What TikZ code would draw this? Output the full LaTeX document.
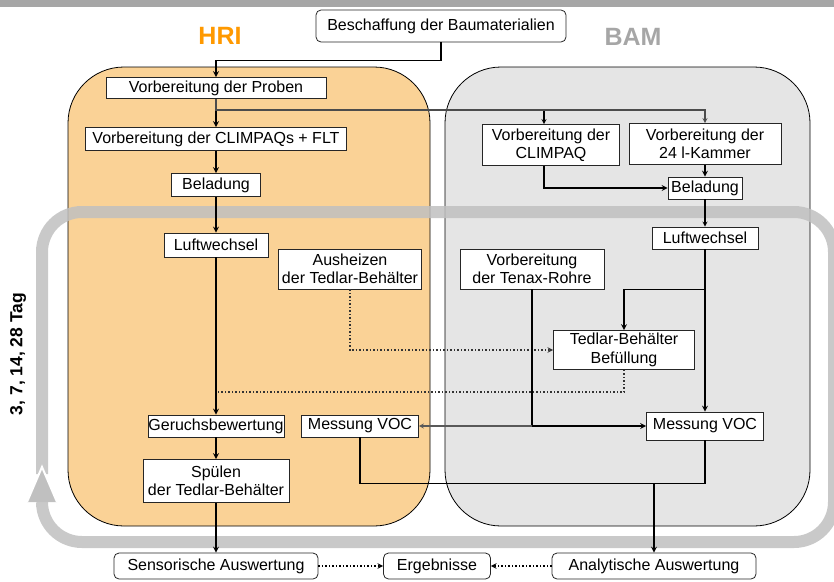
\documentclass[tikz,border=0pt]{standalone}
\usepackage{fontspec}
\setmainfont{Liberation Sans}
\usetikzlibrary{shapes.geometric, arrows}

\definecolor{hriorange}{RGB}{255,153,0}
\definecolor{hrifill}{RGB}{250,210,150}
\definecolor{bamgray}{RGB}{166,166,166}
\definecolor{bamfill}{RGB}{229,229,229}
\definecolor{loopgray}{RGB}{192,192,192}

\tikzstyle{task} = [rectangle, draw=black!85, line width=0.8pt, fill=white, inner xsep=0.5pt, inner ysep=1pt, align=center, minimum height=22pt]
\tikzstyle{result} = [task, rounded corners=5pt, minimum height=26pt]
\tikzstyle{arrow} = [line width=1.6pt,->,>=stealth]
\tikzstyle{thinarrow} = [line width=1.2pt,->,>=stealth]
\tikzstyle{link} = [line width=1.6pt]
\tikzstyle{dotarrow} = [line width=1.5pt,dotted,->,>=stealth]
\tikzstyle{dotline} = [line width=1.5pt,dotted]
\tikzstyle{panel} = [draw=black, line width=0.8pt, rounded corners=56pt]
\tikzstyle{loopband} = [loopgray, line width=12pt, rounded corners=40pt, opacity=0.85]

\begin{document}
\begin{tikzpicture}[x=1pt, y=-1pt, node distance=50pt, font=\fontsize{16}{18.5}\selectfont]
	\useasboundingbox (0,0) rectangle (834,581);
	\fill [bamgray] (0,0) rectangle (834,7);
	\filldraw [panel, fill=hrifill] (68,67) rectangle (430,526);
	\filldraw [panel, fill=bamfill] (445,67) rectangle (810,526);
	\draw [loopband] (42,474) -- (42,212) -- (834,212) -- (834,542) -- (42,542) -- (42,502);
	\fill [loopgray] (27,502) -- (42,467) -- (57,502) -- cycle;
	\draw [white, line width=2pt] (27,502) -- (42,467) -- (57,502);
	
	\node (days) [rotate=90, font=\fontsize{17.5}{20}\selectfont\bfseries] at (18,354) {3, 7, 14, 28 Tag};
	
	\node (n0) [result, minimum width=250pt, minimum height=32pt] at (441,26) {Beschaffung der Baumaterialien};
	\node (hri) [left of=n0, xshift=-171pt, yshift=-10pt, text=hriorange, font=\fontsize{25}{30}\selectfont\bfseries] {HRI};
	\node (bam) [right of=n0, xshift=142pt, yshift=-11pt, text=bamgray, font=\fontsize{25}{30}\selectfont\bfseries] {BAM};
	\node (n1) [task, below of=n0, xshift=-225pt, yshift=-12pt, minimum width=220pt, minimum height=21pt] {Vorbereitung der Proben};
	\node (n2) [task, below of=n1, yshift=-1pt, minimum width=261pt, minimum height=23pt] {Vorbereitung der CLIMPAQs + FLT};
	\node (n3) [task, below of=n2, yshift=4pt, minimum width=89pt, minimum height=23pt] {Beladung};
	\node (n4) [task, below of=n3, yshift=-10pt, minimum width=104pt, minimum height=24pt] {Luftwechsel};
	\node (n5) [task, right of=n4, xshift=84pt, yshift=-24pt, minimum width=143pt, minimum height=40pt] {Ausheizen\\der Tedlar-Behälter};
	\node (n6) [task, below of=n4, yshift=-131pt, minimum width=136pt] {Geruchsbewertung};
	\node (n7) [task, right of=n6, xshift=94pt, minimum width=117pt] {Messung VOC};
	\node (n8) [task, below of=n6, yshift=-5pt, minimum width=146pt, minimum height=43pt] {Spülen\\der Tedlar-Behälter};
	\node (n9) [result, below of=n8, yshift=-35pt, minimum width=204pt] {Sensorische Auswertung};
	\node (n10) [result, right of=n9, xshift=171pt, minimum width=107pt] {Ergebnisse};
	\node (n11) [result, right of=n10, xshift=167pt, minimum width=204pt] {Analytische Auswertung};
	\node (n13) [task, below of=n0, xshift=264pt, yshift=-68pt, minimum width=152pt, minimum height=41pt] {Vorbereitung der\\24 l-Kammer};
	\node (n12) [task, left of=n13, xshift=-104pt, yshift=-1pt, minimum width=137pt, minimum height=41pt] {Vorbereitung der\\CLIMPAQ};
	\node (n14) [task, below of=n13, yshift=6pt, minimum width=74pt] {Beladung};
	\node (n15) [task, below of=n14, minimum width=106pt] {Luftwechsel};
	\node (n16) [task, left of=n15, xshift=-123pt, yshift=-31pt, minimum width=144pt, minimum height=40pt] {Vorbereitung\\der Tenax-Rohre};
	\node (n17) [task, below of=n16, xshift=92pt, yshift=-31pt, minimum width=141pt, minimum height=39pt] {Tedlar-Behälter\\Befüllung};
	\node (n18) [task, below of=n15, yshift=-138pt, minimum width=117pt, minimum height=28pt] {Messung VOC};
	
	\coordinate (t1) at ([yshift=-22pt]n17.south);
	\coordinate (t2) at ([yshift=-43pt]n18.south);
	
	\draw [arrow] (n0.south) -- ++(0,18) -| (n1.north);
	\draw [arrow] (n1) -- (n2);
	\draw [thinarrow] (n1.south) -- ++(0,11) -| ([xshift=-7pt]n12.north);
	\draw [thinarrow, black!70] (n1.south) -- ++(0,11) -| (n13.north);
	\draw [arrow] (n2) -- (n3);
	\draw [arrow] (n3) -- (n4);
	\draw [arrow] (n4) -- (n6);
	\draw [arrow] (n6) -- (n8);
	\draw [arrow] (n8) -- (n9);
	
	\draw [arrow] ([xshift=-7pt]n12.south) |- (n14.west);
	\draw [arrow] (n13) -- (n14);
	\draw [thinarrow] (n14) -- (n15);
	\draw [arrow] (n15) -- (n18);
	\draw [arrow] (n15.south) -- ++(0,40) -| (n17.north);
	\draw [dotarrow, black!80] (n5.south) |- (n17.west);
	\draw [dotline, black!80] (n17.south) -- (t1) -- (t1 -| n4);
	\draw [arrow] (n16.south) |- (n18.west);
	\draw [thinarrow, black!65] (n16.south |- n18.west) -- (n7.east);
	
	\draw [link] (n7.south) |- (t2) -- (n18.south);
	\draw [arrow] (t2 -| n11.north) -- (n11.north);
	
	\draw [dotarrow] (n9) -- (n10);
	\draw [dotarrow] (n11) -- (n10);
\end{tikzpicture}
\end{document}
